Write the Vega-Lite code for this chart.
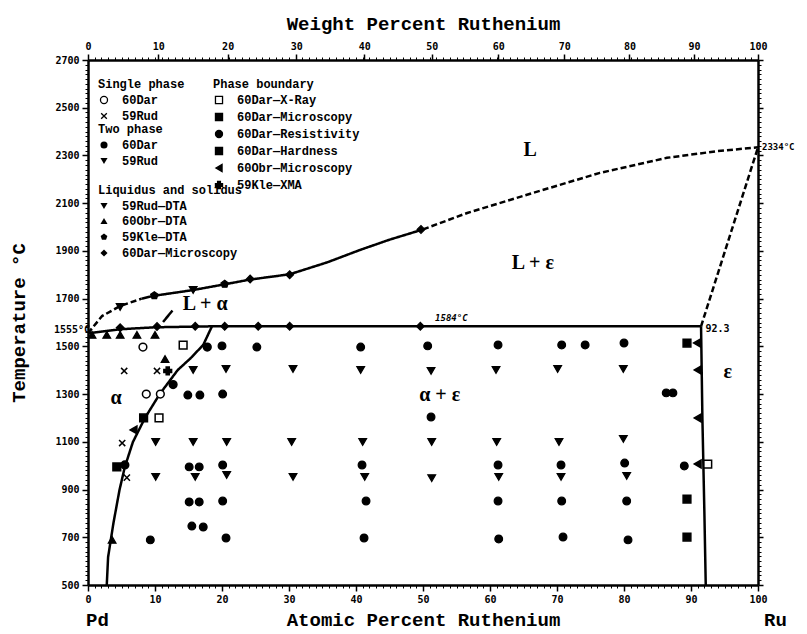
{
  "$schema": "https://vega.github.io/schema/vega-lite/v6.json",
  "width": 670,
  "height": 525,
  "autosize": {"type": "none"},
  "padding": {"left": 88, "top": 60, "right": 49, "bottom": 49},
  "background": "white",
  "datasets": {
    "lines": [
      {"a": 0, "t": 1555, "seg": "liq1", "status": "estimated"},
      {"a": 2.1, "t": 1627, "seg": "liq1", "status": "estimated"},
      {"a": 4.8, "t": 1669, "seg": "liq1", "status": "estimated"},
      {"a": 8, "t": 1700, "seg": "liq1", "status": "estimated"},
      {"a": 8, "t": 1700, "seg": "liq2", "status": "measured"},
      {"a": 9.85, "t": 1712, "seg": "liq2", "status": "measured"},
      {"a": 15.7, "t": 1736, "seg": "liq2", "status": "measured"},
      {"a": 20.4, "t": 1760, "seg": "liq2", "status": "measured"},
      {"a": 24.2, "t": 1780, "seg": "liq2", "status": "measured"},
      {"a": 30.1, "t": 1802, "seg": "liq2", "status": "measured"},
      {"a": 35.7, "t": 1852, "seg": "liq2", "status": "measured"},
      {"a": 40.6, "t": 1904, "seg": "liq2", "status": "measured"},
      {"a": 45, "t": 1947, "seg": "liq2", "status": "measured"},
      {"a": 50, "t": 1990, "seg": "liq2", "status": "measured"},
      {"a": 50, "t": 1990, "seg": "liq3", "status": "estimated"},
      {"a": 56.6, "t": 2059, "seg": "liq3", "status": "estimated"},
      {"a": 66.4, "t": 2143, "seg": "liq3", "status": "estimated"},
      {"a": 76.4, "t": 2227, "seg": "liq3", "status": "estimated"},
      {"a": 86.4, "t": 2290, "seg": "liq3", "status": "estimated"},
      {"a": 93.9, "t": 2318, "seg": "liq3", "status": "estimated"},
      {"a": 100, "t": 2334, "seg": "liq3", "status": "estimated"},
      {"a": 0, "t": 1555, "seg": "peri", "status": "measured"},
      {"a": 5, "t": 1572, "seg": "peri", "status": "measured"},
      {"a": 10, "t": 1580, "seg": "peri", "status": "measured"},
      {"a": 18.5, "t": 1584, "seg": "peri", "status": "measured"},
      {"a": 91.5, "t": 1584, "seg": "peri", "status": "measured"},
      {"a": 18.5, "t": 1584, "seg": "solvus", "status": "measured"},
      {"a": 17.2, "t": 1506, "seg": "solvus", "status": "measured"},
      {"a": 15.3, "t": 1450, "seg": "solvus", "status": "measured"},
      {"a": 13.4, "t": 1401, "seg": "solvus", "status": "measured"},
      {"a": 10.7, "t": 1300, "seg": "solvus", "status": "measured"},
      {"a": 8.5, "t": 1200, "seg": "solvus", "status": "measured"},
      {"a": 6.7, "t": 1099, "seg": "solvus", "status": "measured"},
      {"a": 5.5, "t": 995, "seg": "solvus", "status": "measured"},
      {"a": 4.7, "t": 898, "seg": "solvus", "status": "measured"},
      {"a": 3.8, "t": 760, "seg": "solvus", "status": "measured"},
      {"a": 3.0, "t": 617, "seg": "solvus", "status": "measured"},
      {"a": 2.8, "t": 500, "seg": "solvus", "status": "measured"},
      {"a": 91.5, "t": 1584, "seg": "eps", "status": "measured"},
      {"a": 91.7, "t": 1200, "seg": "eps", "status": "measured"},
      {"a": 92.0, "t": 800, "seg": "eps", "status": "measured"},
      {"a": 92.2, "t": 500, "seg": "eps", "status": "measured"},
      {"a": 91.5, "t": 1584, "seg": "ru", "status": "estimated"},
      {"a": 100, "t": 2334, "seg": "ru", "status": "estimated"},
      {"a": 11.2, "t": 1602, "seg": "leader", "status": "measured"},
      {"a": 12.6, "t": 1650, "seg": "leader", "status": "measured"}
    ],
    "points": [
      {"a": 8.2, "t": 1497, "grp": "Single phase", "src": "60Dar"},
      {"a": 8.7, "t": 1300, "grp": "Single phase", "src": "60Dar"},
      {"a": 10.8, "t": 1300, "grp": "Single phase", "src": "60Dar"},
      {"a": 5.4, "t": 1397, "grp": "Single phase", "src": "59Rud"},
      {"a": 10.3, "t": 1397, "grp": "Single phase", "src": "59Rud"},
      {"a": 5.1, "t": 1095, "grp": "Single phase", "src": "59Rud"},
      {"a": 5.8, "t": 950, "grp": "Single phase", "src": "59Rud"},

      {"a": 9.3, "t": 689, "grp": "Two phase", "src": "60Dar"},
      {"a": 20.6, "t": 697, "grp": "Two phase", "src": "60Dar"},
      {"a": 15.5, "t": 747, "grp": "Two phase", "src": "60Dar"},
      {"a": 17.2, "t": 743, "grp": "Two phase", "src": "60Dar"},
      {"a": 15.1, "t": 848, "grp": "Two phase", "src": "60Dar"},
      {"a": 16.6, "t": 848, "grp": "Two phase", "src": "60Dar"},
      {"a": 20.1, "t": 852, "grp": "Two phase", "src": "60Dar"},
      {"a": 15.1, "t": 995, "grp": "Two phase", "src": "60Dar"},
      {"a": 16.6, "t": 995, "grp": "Two phase", "src": "60Dar"},
      {"a": 20.1, "t": 1003, "grp": "Two phase", "src": "60Dar"},
      {"a": 14.9, "t": 1296, "grp": "Two phase", "src": "60Dar"},
      {"a": 16.7, "t": 1296, "grp": "Two phase", "src": "60Dar"},
      {"a": 20.1, "t": 1300, "grp": "Two phase", "src": "60Dar"},
      {"a": 20.0, "t": 1502, "grp": "Two phase", "src": "60Dar"},
      {"a": 25.2, "t": 1497, "grp": "Two phase", "src": "60Dar"},
      {"a": 40.7, "t": 1497, "grp": "Two phase", "src": "60Dar"},
      {"a": 50.7, "t": 1502, "grp": "Two phase", "src": "60Dar"},
      {"a": 61.2, "t": 1506, "grp": "Two phase", "src": "60Dar"},
      {"a": 70.7, "t": 1506, "grp": "Two phase", "src": "60Dar"},
      {"a": 74.2, "t": 1506, "grp": "Two phase", "src": "60Dar"},
      {"a": 80.0, "t": 1514, "grp": "Two phase", "src": "60Dar"},
      {"a": 51.2, "t": 1204, "grp": "Two phase", "src": "60Dar"},
      {"a": 86.3, "t": 1305, "grp": "Two phase", "src": "60Dar"},
      {"a": 87.3, "t": 1305, "grp": "Two phase", "src": "60Dar"},
      {"a": 40.9, "t": 1003, "grp": "Two phase", "src": "60Dar"},
      {"a": 61.2, "t": 1003, "grp": "Two phase", "src": "60Dar"},
      {"a": 70.6, "t": 1003, "grp": "Two phase", "src": "60Dar"},
      {"a": 80.1, "t": 1011, "grp": "Two phase", "src": "60Dar"},
      {"a": 89.0, "t": 999, "grp": "Two phase", "src": "60Dar"},
      {"a": 41.5, "t": 852, "grp": "Two phase", "src": "60Dar"},
      {"a": 61.2, "t": 852, "grp": "Two phase", "src": "60Dar"},
      {"a": 70.7, "t": 852, "grp": "Two phase", "src": "60Dar"},
      {"a": 80.4, "t": 852, "grp": "Two phase", "src": "60Dar"},
      {"a": 41.2, "t": 697, "grp": "Two phase", "src": "60Dar"},
      {"a": 61.3, "t": 693, "grp": "Two phase", "src": "60Dar"},
      {"a": 70.9, "t": 701, "grp": "Two phase", "src": "60Dar"},
      {"a": 80.6, "t": 689, "grp": "Two phase", "src": "60Dar"},
      {"a": 15.7, "t": 1401, "grp": "Two phase", "src": "59Rud"},
      {"a": 20.6, "t": 1405, "grp": "Two phase", "src": "59Rud"},
      {"a": 30.6, "t": 1405, "grp": "Two phase", "src": "59Rud"},
      {"a": 40.7, "t": 1401, "grp": "Two phase", "src": "59Rud"},
      {"a": 51.2, "t": 1397, "grp": "Two phase", "src": "59Rud"},
      {"a": 60.9, "t": 1401, "grp": "Two phase", "src": "59Rud"},
      {"a": 70.1, "t": 1405, "grp": "Two phase", "src": "59Rud"},
      {"a": 79.9, "t": 1405, "grp": "Two phase", "src": "59Rud"},
      {"a": 10.1, "t": 1099, "grp": "Two phase", "src": "59Rud"},
      {"a": 15.7, "t": 1099, "grp": "Two phase", "src": "59Rud"},
      {"a": 20.7, "t": 1099, "grp": "Two phase", "src": "59Rud"},
      {"a": 30.4, "t": 1099, "grp": "Two phase", "src": "59Rud"},
      {"a": 41.0, "t": 1099, "grp": "Two phase", "src": "59Rud"},
      {"a": 51.3, "t": 1099, "grp": "Two phase", "src": "59Rud"},
      {"a": 61.0, "t": 1099, "grp": "Two phase", "src": "59Rud"},
      {"a": 70.3, "t": 1099, "grp": "Two phase", "src": "59Rud"},
      {"a": 79.9, "t": 1112, "grp": "Two phase", "src": "59Rud"},
      {"a": 10.1, "t": 953, "grp": "Two phase", "src": "59Rud"},
      {"a": 16.0, "t": 953, "grp": "Two phase", "src": "59Rud"},
      {"a": 20.7, "t": 961, "grp": "Two phase", "src": "59Rud"},
      {"a": 30.6, "t": 953, "grp": "Two phase", "src": "59Rud"},
      {"a": 41.3, "t": 953, "grp": "Two phase", "src": "59Rud"},
      {"a": 51.3, "t": 948, "grp": "Two phase", "src": "59Rud"},
      {"a": 61.3, "t": 953, "grp": "Two phase", "src": "59Rud"},
      {"a": 70.6, "t": 953, "grp": "Two phase", "src": "59Rud"},
      {"a": 80.4, "t": 957, "grp": "Two phase", "src": "59Rud"},

      {"a": 4.8, "t": 1665, "grp": "Liquidus and solidus", "src": "59Rud—DTA"},
      {"a": 15.7, "t": 1736, "grp": "Liquidus and solidus", "src": "59Rud—DTA"},
      {"a": 0.6, "t": 1548, "grp": "Liquidus and solidus", "src": "60Obr—DTA"},
      {"a": 2.8, "t": 1548, "grp": "Liquidus and solidus", "src": "60Obr—DTA"},
      {"a": 4.8, "t": 1548, "grp": "Liquidus and solidus", "src": "60Obr—DTA"},
      {"a": 7.3, "t": 1548, "grp": "Liquidus and solidus", "src": "60Obr—DTA"},
      {"a": 10.0, "t": 1548, "grp": "Liquidus and solidus", "src": "60Obr—DTA"},
      {"a": 11.5, "t": 1447, "grp": "Liquidus and solidus", "src": "60Obr—DTA"},
      {"a": 3.6, "t": 689, "grp": "Liquidus and solidus", "src": "60Obr—DTA"},
      {"a": 9.9, "t": 1713, "grp": "Liquidus and solidus", "src": "59Kle—DTA"},
      {"a": 20.4, "t": 1761, "grp": "Liquidus and solidus", "src": "59Kle—DTA"},
      {"a": 4.8, "t": 1578, "grp": "Liquidus and solidus", "src": "60Dar—Microscopy"},
      {"a": 10.3, "t": 1583, "grp": "Liquidus and solidus", "src": "60Dar—Microscopy"},
      {"a": 16.0, "t": 1584, "grp": "Liquidus and solidus", "src": "60Dar—Microscopy"},
      {"a": 20.4, "t": 1584, "grp": "Liquidus and solidus", "src": "60Dar—Microscopy"},
      {"a": 25.4, "t": 1584, "grp": "Liquidus and solidus", "src": "60Dar—Microscopy"},
      {"a": 30.1, "t": 1584, "grp": "Liquidus and solidus", "src": "60Dar—Microscopy"},
      {"a": 49.6, "t": 1584, "grp": "Liquidus and solidus", "src": "60Dar—Microscopy"},
      {"a": 24.2, "t": 1782, "grp": "Liquidus and solidus", "src": "60Dar—Microscopy"},
      {"a": 30.1, "t": 1800, "grp": "Liquidus and solidus", "src": "60Dar—Microscopy"},
      {"a": 49.7, "t": 1990, "grp": "Liquidus and solidus", "src": "60Dar—Microscopy"},

      {"a": 14.2, "t": 1505, "grp": "Phase boundary", "src": "60Dar—X-Ray"},
      {"a": 10.6, "t": 1200, "grp": "Phase boundary", "src": "60Dar—X-Ray"},
      {"a": 92.5, "t": 1007, "grp": "Phase boundary", "src": "60Dar—X-Ray"},
      {"a": 89.4, "t": 1514, "grp": "Phase boundary", "src": "60Dar—Microscopy"},
      {"a": 89.4, "t": 860, "grp": "Phase boundary", "src": "60Dar—Microscopy"},
      {"a": 89.4, "t": 701, "grp": "Phase boundary", "src": "60Dar—Microscopy"},
      {"a": 17.8, "t": 1497, "grp": "Phase boundary", "src": "60Dar—Resistivity"},
      {"a": 12.7, "t": 1340, "grp": "Phase boundary", "src": "60Dar—Resistivity"},
      {"a": 5.5, "t": 1003, "grp": "Phase boundary", "src": "60Dar—Resistivity"},
      {"a": 4.3, "t": 995, "grp": "Phase boundary", "src": "60Dar—Hardness"},
      {"a": 8.3, "t": 1200, "grp": "Phase boundary", "src": "60Dar—Hardness"},
      {"a": 90.9, "t": 1514, "grp": "Phase boundary", "src": "60Obr—Microscopy"},
      {"a": 91.0, "t": 1401, "grp": "Phase boundary", "src": "60Obr—Microscopy"},
      {"a": 91.0, "t": 1200, "grp": "Phase boundary", "src": "60Obr—Microscopy"},
      {"a": 91.0, "t": 1007, "grp": "Phase boundary", "src": "60Obr—Microscopy"},
      {"a": 6.8, "t": 1150, "grp": "Phase boundary", "src": "60Obr—Microscopy"},
      {"a": 11.9, "t": 1397, "grp": "Phase boundary", "src": "59Kle—XMA"}
    ],
    "regions": [
      {"a": 66, "t": 2323, "label": "L"},
      {"a": 66.4, "t": 1850, "label": "L + ε"},
      {"a": 17.5, "t": 1677, "label": "L + α"},
      {"a": 4.2, "t": 1284, "label": "α"},
      {"a": 52.5, "t": 1296, "label": "α + ε"},
      {"a": 95.5, "t": 1393, "label": "ε"}
    ]
  },
  "layer": [
    {
      "data": {"name": "lines"},
      "mark": {"type": "line", "strokeWidth": 2.5, "color": "black"},
      "encoding": {
        "x": {"field": "a", "type": "quantitative", "scale": {"domain": [0, 100], "nice": false, "zero": false},
              "axis": {"orient": "bottom", "tickCount": 100, "format": "d",
                       "labelExpr": "datum.value % 10 === 0 ? datum.label : ''",
                       "tickSize": {"condition": {"test": "datum.value % 10 === 0", "value": 6}, "value": 3},
                       "tickWidth": {"condition": {"test": "datum.value % 10 === 0", "value": 1.5}, "value": 1},
                       "labelPadding": 3, "title": "Atomic Percent Ruthenium", "titlePadding": 6}},
        "y": {"field": "t", "type": "quantitative", "scale": {"domain": [500, 2700], "nice": false, "zero": false},
              "axis": {"orient": "left", "tickCount": 110, "format": "d",
                       "labelExpr": "(datum.value - 500) % 200 === 0 ? datum.label : ''",
                       "tickSize": {"condition": {"test": "(datum.value - 500) % 200 === 0", "value": 6}, "value": 3},
                       "tickWidth": {"condition": {"test": "(datum.value - 500) % 200 === 0", "value": 1.5}, "value": 1},
                       "labelPadding": 3, "title": "Temperature °C", "titlePadding": 26}},
        "detail": {"field": "seg"},
        "strokeDash": {"field": "status", "type": "nominal", "scale": {"domain": ["measured", "estimated"], "range": [[1, 0], [6, 3]]}, "legend": null}
      }
    },
    {
      "data": {"name": "points"},
      "transform": [{"filter": "datum.grp === 'Two phase'"}],
      "mark": {"type": "point", "filled": true, "size": 60, "color": "black", "stroke": "black", "strokeWidth": 1.2, "opacity": 1},
      "encoding": {
        "x": {"field": "a", "type": "quantitative", "scale": {"domain": [0, 100], "nice": false, "zero": false}, "axis": null},
        "y": {"field": "t", "type": "quantitative", "scale": {"domain": [500, 2700], "nice": false, "zero": false}, "axis": null},
        "shape": {"field": "src", "type": "nominal", "scale": {"domain": ["60Dar", "59Rud"], "range": ["circle", "triangle-down"]},
                  "legend": {"title": "Two phase", "orient": "none", "legendX": 10, "legendY": 64}}
      }
    },
    {
      "data": {"name": "points"},
      "transform": [{"filter": "datum.grp === 'Single phase'"}],
      "mark": {"type": "point", "filled": true, "size": 60, "color": "black", "stroke": "black", "strokeWidth": 1.5, "opacity": 1},
      "encoding": {
        "x": {"field": "a", "type": "quantitative", "scale": {"domain": [0, 100], "nice": false, "zero": false},
              "axis": {"orient": "top",
                       "values": [0, 1, 2, 3, 4, 5, 6, 7, 8, 9, 10, 10.47, 11, 12, 13, 14, 15, 16, 17, 18, 19, 20, 20.84, 21, 22, 23, 24, 25, 26, 27, 28, 29, 30, 31, 31.09, 32, 33, 34, 35, 36, 37, 38, 39, 40, 41, 41.24, 42, 43, 44, 45, 46, 47, 48, 49, 50, 51, 51.29, 52, 53, 54, 55, 56, 57, 58, 59, 60, 61, 61.23, 62, 63, 64, 65, 66, 67, 68, 69, 70, 71, 71.07, 72, 73, 74, 75, 76, 77, 78, 79, 80, 80.81, 81, 82, 83, 84, 85, 86, 87, 88, 89, 90, 90.45, 91, 92, 93, 94, 95, 96, 97, 98, 99, 100],
                       "labelExpr": "indexof([0, 10.47, 20.84, 31.09, 41.24, 51.29, 61.23, 71.07, 80.81, 90.45, 100], datum.value) >= 0 ? format(round(datum.value*101.07/(datum.value*101.07+(100-datum.value)*106.42)*10)*10, 'd') : ''",
                       "tickSize": {"condition": {"test": "indexof([0, 10.47, 20.84, 31.09, 41.24, 51.29, 61.23, 71.07, 80.81, 90.45, 100], datum.value) >= 0", "value": 6}, "value": 3},
                       "tickWidth": {"condition": {"test": "indexof([0, 10.47, 20.84, 31.09, 41.24, 51.29, 61.23, 71.07, 80.81, 90.45, 100], datum.value) >= 0", "value": 1.5}, "value": 1},
                       "labelPadding": 3, "title": "Weight Percent Ruthenium", "titlePadding": 8}},
        "y": {"field": "t", "type": "quantitative", "scale": {"domain": [500, 2700], "nice": false, "zero": false},
              "axis": {"orient": "right", "tickCount": 110, "labels": false, "title": null,
                       "tickSize": {"condition": {"test": "(datum.value - 500) % 200 === 0", "value": 5}, "value": 3},
                       "tickWidth": {"condition": {"test": "(datum.value - 500) % 200 === 0", "value": 1.5}, "value": 1}}},
        "shape": {"field": "src", "type": "nominal", "scale": {"domain": ["60Dar", "59Rud"], "range": ["circle", "M-0.8,-0.8L0.8,0.8M0.8,-0.8L-0.8,0.8"]},
                  "legend": {"title": "Single phase", "orient": "none", "legendX": 10, "legendY": 19}},
        "fill": {"field": "src", "type": "nominal", "scale": {"domain": ["60Dar", "59Rud"], "range": ["white", "black"]},
                 "legend": {"title": "Single phase", "orient": "none", "legendX": 10, "legendY": 19}},
        "stroke": {"field": "src", "type": "nominal", "scale": {"domain": ["60Dar", "59Rud"], "range": ["black", "black"]},
                   "legend": {"title": "Single phase", "orient": "none", "legendX": 10, "legendY": 19}}
      }
    },
    {
      "data": {"name": "points"},
      "transform": [{"filter": "datum.grp === 'Liquidus and solidus'"}],
      "mark": {"type": "point", "filled": true, "size": 60, "color": "black", "stroke": "black", "strokeWidth": 1.2, "opacity": 1},
      "encoding": {
        "x": {"field": "a", "type": "quantitative", "scale": {"domain": [0, 100], "nice": false, "zero": false}, "axis": null},
        "y": {"field": "t", "type": "quantitative", "scale": {"domain": [500, 2700], "nice": false, "zero": false}, "axis": null},
        "shape": {"field": "src", "type": "nominal",
                  "scale": {"domain": ["59Rud—DTA", "60Obr—DTA", "59Kle—DTA", "60Dar—Microscopy"],
                            "range": ["triangle-down", "triangle-up", "M0,-1L0.951,-0.309L0.588,0.809L-0.588,0.809L-0.951,-0.309Z", "diamond"]},
                  "legend": {"title": "Liquidus and solidus", "orient": "none", "legendX": 10, "legendY": 125}}
      }
    },
    {
      "data": {"name": "points"},
      "transform": [{"filter": "datum.grp === 'Phase boundary'"}],
      "mark": {"type": "point", "filled": true, "size": 60, "color": "black", "stroke": "black", "strokeWidth": 1.5, "opacity": 1},
      "encoding": {
        "x": {"field": "a", "type": "quantitative", "scale": {"domain": [0, 100], "nice": false, "zero": false}, "axis": null},
        "y": {"field": "t", "type": "quantitative", "scale": {"domain": [500, 2700], "nice": false, "zero": false}, "axis": null},
        "shape": {"field": "src", "type": "nominal",
                  "scale": {"domain": ["60Dar—X-Ray", "60Dar—Microscopy", "60Dar—Resistivity", "60Dar—Hardness", "60Obr—Microscopy", "59Kle—XMA"],
                            "range": ["square", "square", "circle", "square", "triangle-left", "cross"]},
                  "legend": {"title": "Phase boundary", "orient": "none", "legendX": 125, "legendY": 19}},
        "fill": {"field": "src", "type": "nominal",
                 "scale": {"domain": ["60Dar—X-Ray", "60Dar—Microscopy", "60Dar—Resistivity", "60Dar—Hardness", "60Obr—Microscopy", "59Kle—XMA"],
                           "range": ["white", "black", "black", "black", "black", "black"]},
                 "legend": {"title": "Phase boundary", "orient": "none", "legendX": 125, "legendY": 19}},
        "stroke": {"field": "src", "type": "nominal",
                   "scale": {"domain": ["60Dar—X-Ray", "60Dar—Microscopy", "60Dar—Resistivity", "60Dar—Hardness", "60Obr—Microscopy", "59Kle—XMA"],
                             "range": ["black", "black", "black", "black", "black", "black"]},
                   "legend": {"title": "Phase boundary", "orient": "none", "legendX": 125, "legendY": 19}}
      }
    },
    {
      "data": {"name": "regions"},
      "mark": {"type": "text", "font": "Liberation Serif", "fontWeight": "bold", "fontSize": 20, "color": "black", "align": "center", "baseline": "middle"},
      "encoding": {
        "x": {"field": "a", "type": "quantitative", "scale": {"domain": [0, 100], "nice": false, "zero": false}, "axis": null},
        "y": {"field": "t", "type": "quantitative", "scale": {"domain": [500, 2700], "nice": false, "zero": false}, "axis": null},
        "text": {"field": "label"}
      }
    },
    {
      "data": {"values": [{}]},
      "mark": {"type": "text", "font": "DejaVu Sans Mono", "fontWeight": "bold", "fontStyle": "italic", "fontSize": 9, "color": "black", "align": "left", "baseline": "bottom", "dy": -3},
      "encoding": {
        "x": {"datum": 51.8, "type": "quantitative", "scale": {"domain": [0, 100], "nice": false, "zero": false}, "axis": null},
        "y": {"datum": 1584, "type": "quantitative", "scale": {"domain": [500, 2700], "nice": false, "zero": false}, "axis": null},
        "text": {"value": "1584°C"}
      }
    },
    {
      "data": {"values": [{}]},
      "mark": {"type": "text", "font": "DejaVu Sans Mono", "fontWeight": "bold", "fontSize": 10, "color": "black", "align": "left", "baseline": "middle", "dx": 1, "dy": 3},
      "encoding": {
        "x": {"datum": 92, "type": "quantitative", "scale": {"domain": [0, 100], "nice": false, "zero": false}, "axis": null},
        "y": {"datum": 1584, "type": "quantitative", "scale": {"domain": [500, 2700], "nice": false, "zero": false}, "axis": null},
        "text": {"value": "92.3"}
      }
    },
    {
      "data": {"values": [{}]},
      "mark": {"type": "text", "font": "DejaVu Sans Mono", "fontWeight": "bold", "fontSize": 9, "color": "black", "align": "left", "baseline": "middle", "dx": 4},
      "encoding": {
        "x": {"datum": 100, "type": "quantitative", "scale": {"domain": [0, 100], "nice": false, "zero": false}, "axis": null},
        "y": {"datum": 2334, "type": "quantitative", "scale": {"domain": [500, 2700], "nice": false, "zero": false}, "axis": null},
        "text": {"value": "2334°C"}
      }
    },
    {
      "data": {"values": [{}]},
      "mark": {"type": "text", "font": "DejaVu Sans Mono", "fontWeight": "bold", "fontSize": 10, "color": "black", "align": "right", "baseline": "middle", "dx": 2, "dy": -3},
      "encoding": {
        "x": {"datum": 0, "type": "quantitative", "scale": {"domain": [0, 100], "nice": false, "zero": false}, "axis": null},
        "y": {"datum": 1555, "type": "quantitative", "scale": {"domain": [500, 2700], "nice": false, "zero": false}, "axis": null},
        "text": {"value": "1555°C"}
      }
    },
    {
      "data": {"values": [{}]},
      "mark": {"type": "text", "font": "Liberation Mono", "fontWeight": "bold", "fontSize": 19, "color": "black", "align": "left", "baseline": "middle", "dx": -2},
      "encoding": {
        "x": {"datum": 0, "type": "quantitative", "scale": {"domain": [0, 100], "nice": false, "zero": false}, "axis": null},
        "y": {"datum": 353, "type": "quantitative", "scale": {"domain": [500, 2700], "nice": false, "zero": false}, "axis": null},
        "text": {"value": "Pd"}
      }
    },
    {
      "data": {"values": [{}]},
      "mark": {"type": "text", "font": "Liberation Mono", "fontWeight": "bold", "fontSize": 19, "color": "black", "align": "left", "baseline": "middle", "dx": 6},
      "encoding": {
        "x": {"datum": 100, "type": "quantitative", "scale": {"domain": [0, 100], "nice": false, "zero": false}, "axis": null},
        "y": {"datum": 353, "type": "quantitative", "scale": {"domain": [500, 2700], "nice": false, "zero": false}, "axis": null},
        "text": {"value": "Ru"}
      }
    },
    {
      "mark": {"type": "rule", "strokeWidth": 3, "color": "black"},
      "encoding": {
        "x": {"datum": 0.6, "type": "quantitative", "scale": {"domain": [0, 100], "nice": false, "zero": false}, "axis": null},
        "x2": {"datum": 41},
        "y": {"datum": 2671, "type": "quantitative", "scale": {"domain": [500, 2700], "nice": false, "zero": false}, "axis": null},
        "y2": {"datum": 2671}
      }
    },
    {
      "mark": {"type": "rule", "strokeWidth": 3, "color": "black"},
      "encoding": {
        "x": {"datum": 0.6, "type": "quantitative", "scale": {"domain": [0, 100], "nice": false, "zero": false}, "axis": null},
        "x2": {"datum": 0.6},
        "y": {"datum": 2671, "type": "quantitative", "scale": {"domain": [500, 2700], "nice": false, "zero": false}, "axis": null},
        "y2": {"datum": 1829}
      }
    },
    {
      "mark": {"type": "rule", "strokeWidth": 3, "color": "black"},
      "encoding": {
        "x": {"datum": 0.6, "type": "quantitative", "scale": {"domain": [0, 100], "nice": false, "zero": false}, "axis": null},
        "x2": {"datum": 26.1},
        "y": {"datum": 1829, "type": "quantitative", "scale": {"domain": [500, 2700], "nice": false, "zero": false}, "axis": null},
        "y2": {"datum": 1829}
      }
    },
    {
      "mark": {"type": "rule", "strokeWidth": 3, "color": "black"},
      "encoding": {
        "x": {"datum": 26.1, "type": "quantitative", "scale": {"domain": [0, 100], "nice": false, "zero": false}, "axis": null},
        "x2": {"datum": 26.1},
        "y": {"datum": 1829, "type": "quantitative", "scale": {"domain": [500, 2700], "nice": false, "zero": false}, "axis": null},
        "y2": {"datum": 2185}
      }
    },
    {
      "mark": {"type": "rule", "strokeWidth": 3, "color": "black"},
      "encoding": {
        "x": {"datum": 26.1, "type": "quantitative", "scale": {"domain": [0, 100], "nice": false, "zero": false}, "axis": null},
        "x2": {"datum": 41},
        "y": {"datum": 2185, "type": "quantitative", "scale": {"domain": [500, 2700], "nice": false, "zero": false}, "axis": null},
        "y2": {"datum": 2185}
      }
    },
    {
      "mark": {"type": "rule", "strokeWidth": 3, "color": "black"},
      "encoding": {
        "x": {"datum": 41, "type": "quantitative", "scale": {"domain": [0, 100], "nice": false, "zero": false}, "axis": null},
        "x2": {"datum": 41},
        "y": {"datum": 2185, "type": "quantitative", "scale": {"domain": [500, 2700], "nice": false, "zero": false}, "axis": null},
        "y2": {"datum": 2671}
      }
    }
  ],
  "resolve": {
    "axis": {"x": "independent", "y": "independent"},
    "scale": {"shape": "independent", "fill": "independent", "stroke": "independent", "strokeDash": "independent"}
  },
  "config": {
    "view": {"stroke": null},
    "mark": {"color": "black"},
    "axis": {
      "domainColor": "black", "domainWidth": 2.5, "tickColor": "black",
      "labelColor": "black", "titleColor": "black",
      "labelFont": "DejaVu Sans Mono", "labelFontWeight": "bold", "labelFontSize": 10,
      "titleFont": "Liberation Mono", "titleFontWeight": "bold", "titleFontSize": 19,
      "grid": false, "labelOverlap": false, "labelFlush": false
    },
    "legend": {
      "labelFont": "Liberation Mono", "labelFontWeight": "bold", "labelFontSize": 12, "labelColor": "black",
      "titleFont": "Liberation Mono", "titleFontWeight": "bold", "titleFontSize": 12, "titleColor": "black",
      "symbolStrokeColor": "black", "symbolStrokeWidth": 1.3, "symbolSize": 50,
      "rowPadding": 3, "titlePadding": 3, "labelOffset": 12, "padding": 0
    }
  }
}
